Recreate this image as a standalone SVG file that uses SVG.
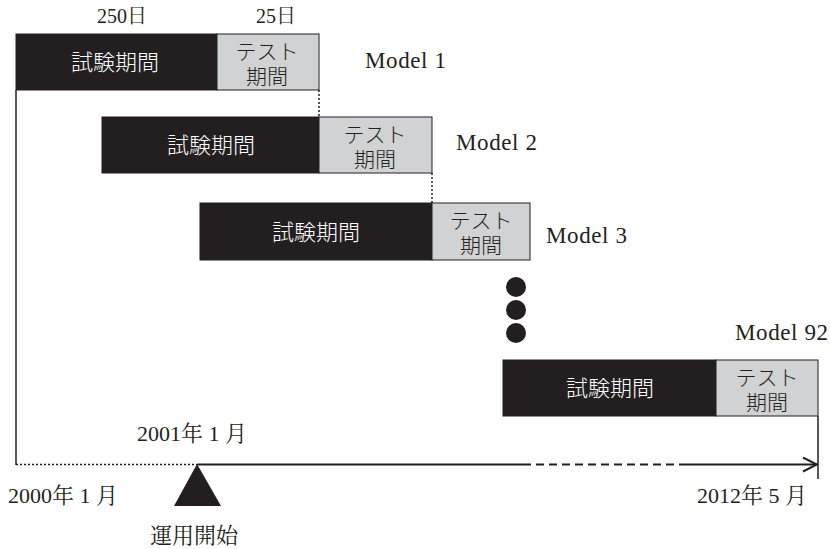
<svg xmlns="http://www.w3.org/2000/svg" width="830" height="549" viewBox="0 0 830 549">
<style>
.dark{fill:#231f20;stroke:#231f20;stroke-width:1}
.gray{fill:#d1d2d4;stroke:#231f20;stroke-width:1}
.bt{font-family:"Noto Sans CJK JP",sans-serif;font-weight:300;fill:#ffffff;font-size:22px;text-anchor:middle}
.gt{font-family:"Noto Sans CJK JP",sans-serif;font-weight:300;fill:#231f20;font-size:21px;text-anchor:middle}
.lbl{font-family:"Liberation Serif","Noto Serif CJK JP","Noto Sans CJK JP",serif;fill:#231f20;font-size:22px}
.top{font-family:"Liberation Serif","Noto Serif CJK JP","Noto Sans CJK JP",serif;fill:#231f20;font-size:20px;text-anchor:middle}
.mdl{font-family:"Liberation Serif",serif;fill:#231f20;font-size:23px;letter-spacing:0.6px}
.ln{stroke:#231f20;stroke-width:1.5;fill:none}
.ax{stroke:#231f20;stroke-width:2;fill:none}
.dot{stroke:#231f20;stroke-width:1.5;fill:none;stroke-dasharray:2 2}
</style>
<defs>
<marker id="arr" markerWidth="16" markerHeight="16" refX="15" refY="8" orient="auto" markerUnits="userSpaceOnUse">
<path d="M1,1 L15,8 L1,15" fill="none" stroke="#231f20" stroke-width="2"/>
</marker>
</defs>
<g id="labels-top">
<text class="top" x="122" y="23">250日</text>
<text class="top" x="276" y="23">25日</text>
</g>
<g id="model1">
<rect class="dark" x="16" y="34" width="201" height="56"/>
<rect class="gray" x="217" y="34" width="102" height="56"/>
<text class="bt" x="115" y="70">試験期間</text>
<text class="gt" x="267" y="59">テスト</text>
<text class="gt" x="267" y="84">期間</text>
<text class="mdl" x="365" y="68">Model 1</text>
</g>
<g id="model2">
<rect class="dark" x="102" y="117" width="217" height="56"/>
<rect class="gray" x="319" y="117" width="113" height="56"/>
<text class="bt" x="211" y="153">試験期間</text>
<text class="gt" x="375" y="142">テスト</text>
<text class="gt" x="375" y="167">期間</text>
<text class="mdl" x="456" y="150">Model 2</text>
</g>
<g id="model3">
<rect class="dark" x="200" y="203" width="232" height="57"/>
<rect class="gray" x="432" y="203" width="98" height="57"/>
<text class="bt" x="316" y="240">試験期間</text>
<text class="gt" x="481" y="228">テスト</text>
<text class="gt" x="481" y="253">期間</text>
<text class="mdl" x="546" y="243">Model 3</text>
</g>
<g id="ellipsis">
<circle cx="516" cy="287" r="10" fill="#231f20"/>
<circle cx="516" cy="310" r="10" fill="#231f20"/>
<circle cx="516" cy="333" r="10" fill="#231f20"/>
</g>
<g id="model92">
<rect class="dark" x="503" y="360" width="213" height="56"/>
<rect class="gray" x="716" y="360" width="102" height="56"/>
<text class="bt" x="610" y="396">試験期間</text>
<text class="gt" x="767" y="385">テスト</text>
<text class="gt" x="767" y="410">期間</text>
<text class="mdl" x="735" y="340">Model 92</text>
</g>
<g id="connectors">
<line class="ln" x1="16" y1="90" x2="16" y2="465"/>
<line class="dot" x1="319" y1="90" x2="319" y2="117"/>
<line class="dot" x1="432" y1="173" x2="432" y2="203"/>
<line class="ln" x1="818" y1="416" x2="818" y2="479"/>
<line class="dot" x1="16" y1="464.5" x2="198" y2="464.5"/>
<line class="ax" x1="198" y1="464.5" x2="523" y2="464.5"/>
<line class="ax" x1="523" y1="464.5" x2="682" y2="464.5" stroke-dasharray="8 5"/>
<line class="ax" x1="682" y1="464.5" x2="817" y2="464.5" marker-end="url(#arr)"/>
</g>
<g id="start">
<polygon points="197,464 174,506 221,506" fill="#231f20"/>
<text class="lbl" x="137" y="441">2001年 1 月</text>
<text class="lbl" x="150" y="543">運用開始</text>
</g>
<g id="axis-labels">
<text class="lbl" x="8" y="503">2000年 1 月</text>
<text class="lbl" x="697" y="503">2012年 5 月</text>
</g>
</svg>
